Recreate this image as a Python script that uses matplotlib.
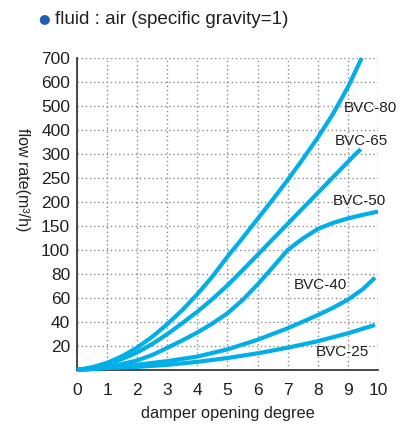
import numpy as np
import matplotlib
matplotlib.use('Agg')
import matplotlib.pyplot as plt

plt.rcParams['font.family'] = ['Liberation Sans', 'DejaVu Sans']

### values (flow rate in m3/h vs damper opening)
bvc80_x = [0, 0.5, 1, 1.5, 2, 2.5, 3, 3.5, 4, 4.5, 5, 5.5, 6, 6.5, 7, 7.5, 8, 8.5, 9, 9.46]
bvc80_y = [0, 2.2, 6, 11.5, 18.7, 27.7, 38.2, 50, 63.2, 77.9, 94.5, 124.8, 164.8,
           204.8, 246, 289, 368.5, 466, 578.5, 700]

bvc65_x = [0, 0.5, 1, 1.5, 2, 2.5, 3, 3.5, 4, 4.5, 5, 5.5, 6, 6.5, 7, 7.5, 8, 8.5, 9, 9.27, 9.43]
bvc65_y = [0, 1.8, 5, 9.2, 14.7, 21.7, 29.9, 39.1, 48.6, 59.1, 70.6, 83.1, 96,
           122.3, 154.5, 186.8, 219, 251.3, 283.5, 302, 320]

bvc50_x = [0, 0.5, 1, 1.5, 2, 2.5, 3, 3.5, 4, 4.5, 5, 5.5, 6, 6.5, 7, 7.5, 8, 8.5, 9, 9.5, 10]
bvc50_y = [0, 1, 2.8, 5, 8, 12.5, 18.5, 24.7, 31.3, 38.8, 47.3, 58.3, 71.3, 85.5,
           100, 123.8, 143.8, 156.3, 165.8, 173.3, 180]

bvc40_x = [0, 1, 2, 3, 4, 5, 5.5, 6, 6.5, 7, 7.5, 8, 8.5, 9, 9.5, 9.9]
bvc40_y = [0, 2, 4.4, 7.4, 11.2, 17.2, 21.2, 25.2, 30, 34.8, 40.2, 45.8, 51.8, 58.6, 67.4, 77]

bvc25_x = [0, 1, 2, 3, 4, 5, 6, 7, 8, 9, 9.9]
bvc25_y = [0, 1.6, 2.6, 4.3, 6.8, 10, 13.9, 18.6, 24, 30.6, 37.5]

y_ticks = [0, 20, 40, 60, 80, 100, 150, 200, 250, 300, 400, 500, 600, 700]
x_ticks = list(range(11))

labels = ['BVC-80', 'BVC-65', 'BVC-50', 'BVC-40', 'BVC-25']
label_x = [8.87, 8.57, 8.5, 7.19, 7.93]
label_y = [492, 354, 202, 71, 15.3]

# the flow axis is evenly spaced per tick, not linear
tick_pos = np.arange(len(y_ticks))
def fwd(v):
    return np.interp(v, y_ticks, tick_pos)
def inv(p):
    return np.interp(p, tick_pos, y_ticks)

line_col = '#00aee8'
txt_col = '#231f20'

fig = plt.figure(figsize=(4.14, 4.28), dpi=100)
ax = fig.add_axes([0.186, 0.1355, 0.727, 0.729])
ax.set_yscale('function', functions=(fwd, inv))

for xs, ys in [(bvc80_x, bvc80_y), (bvc65_x, bvc65_y), (bvc50_x, bvc50_y),
               (bvc40_x, bvc40_y), (bvc25_x, bvc25_y)]:
    ax.plot(xs, ys, color=line_col, lw=3.0, solid_capstyle='butt',
            solid_joinstyle='round', clip_on=False, zorder=3)

for lab, lx, ly in zip(labels, label_x, label_y):
    ax.text(lx, ly, lab, fontsize=11, color=txt_col, ha='left', va='center')

ax.set_xlim(0, 10)
ax.set_ylim(0, 700)
ax.set_xticks(x_ticks)
ax.set_yticks(y_ticks[1:])
ax.set_yticklabels([str(v) for v in y_ticks[1:]])
ax.tick_params(length=0, labelsize=12.5, labelcolor=txt_col, pad=5)
ax.tick_params(axis='x', pad=9)
ax.grid(True, color='#8a8a8a', linestyle=(0, (1, 2)), linewidth=1.0)

for s in ['top', 'right']:
    ax.spines[s].set_visible(False)
for s in ['left', 'bottom']:
    ax.spines[s].set_color('#3a3a3a')
    ax.spines[s].set_linewidth(1.3)

ax.set_xlabel('damper opening degree', fontsize=11.8, color=txt_col, labelpad=6)
ax.set_ylabel('flow rate(m\u00b3/h)', fontsize=11.5, color=txt_col, rotation=270)
ax.yaxis.set_label_coords(-0.205, 0.61)

fig.text(0.1065, 0.957, '\u25cf', fontsize=9.5, color='#1f5fb0', ha='center', va='center',
         family='DejaVu Sans')
fig.text(0.133, 0.955, 'fluid : air (specific gravity=1)', fontsize=13.6, color=txt_col,
         ha='left', va='center')

fig.savefig('out.png', dpi=100)
